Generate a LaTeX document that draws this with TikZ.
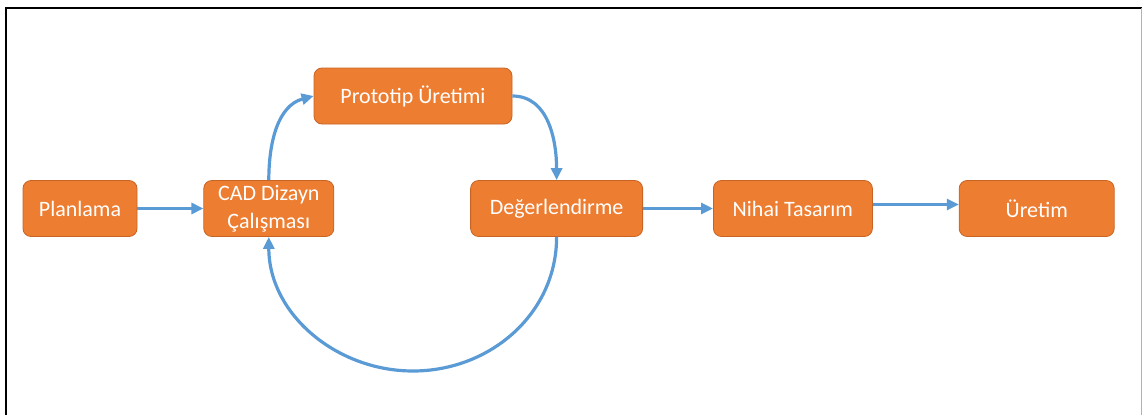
\documentclass[tikz,border=0pt]{standalone}
\usepackage{fontspec}
\setmainfont{Carlito}
\usetikzlibrary{arrows.meta,positioning}
\definecolor{stepfill}{RGB}{237,125,49}
\definecolor{stepline}{RGB}{200,100,35}
\definecolor{flowblue}{RGB}{91,155,213}

\begin{document}
\begin{tikzpicture}[x=1pt,y=-1pt,node distance=66pt,box/.style={draw=stepline,line width=0.8pt,fill=stepfill,rounded corners=8pt,align=center,text=white,font=\fontsize{22}{28}\selectfont,inner sep=2pt,minimum height=56pt},arr/.style={-{Triangle[length=12pt,width=11pt]},draw=flowblue,line width=3.2pt}]
\useasboundingbox (0,0) rectangle (1142,415);
\draw[line width=2pt] (6,415)--(6,8)--(1142,8); \draw[gray!60,line width=1pt] (1141,8)--(1141,415);
\node[box,minimum width=114pt] (plan) at (80,208.5) {Planlama};
\node[box,minimum width=130pt,right=66pt of plan] (cad) {CAD Dizayn\\Çalışması};
\node[box,minimum width=198pt] (proto) at (413,96) {Prototip Üretimi};
\node[box,minimum width=172pt,right=136pt of cad] (eval) {Değerlendirme};
\node[box,minimum width=159pt,right=70pt of eval] (final) {Nihai Tasarım};
\node[box,minimum width=155pt,right=86pt of final] (prod) {Üretim};
\coordinate (loop) at (413,371);
\draw[arr] (plan)--(cad); \draw[arr] (eval)--(final); \draw[arr] ([yshift=4pt]final.east)--([yshift=4pt]prod.west);
\draw[arr] (cad.north) to[out=90,in=195] (proto.west); \draw[arr] (proto.east) to[out=0,in=90] (eval.north);
\draw[arr] (eval.south) to[out=-90,in=0] (loop) to[out=180,in=-90] (cad.south);
\end{tikzpicture}
\end{document}
